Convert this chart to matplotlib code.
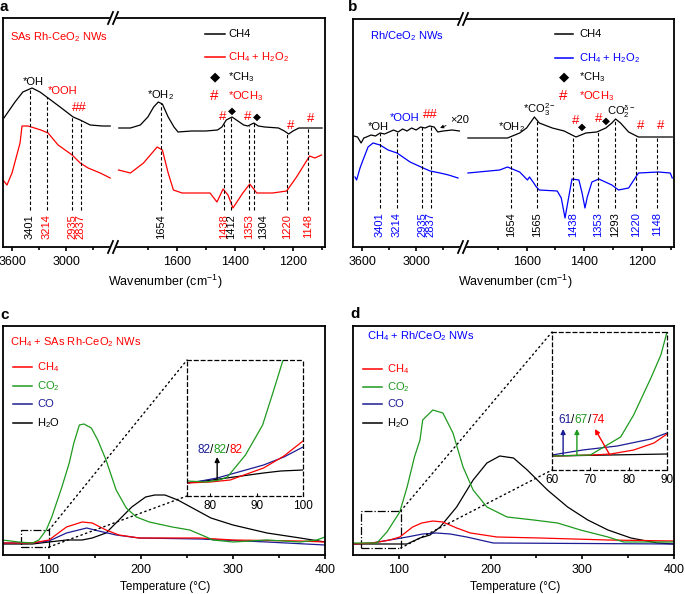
import numpy as np
import matplotlib
matplotlib.use("Agg")
import matplotlib.pyplot as plt
from matplotlib.patches import Rectangle, Polygon, ConnectionPatch

plt.rcParams['font.family'] = ['Liberation Sans', 'DejaVu Sans']
plt.rcParams['mathtext.default'] = 'regular'
plt.rcParams['font.size'] = 8

W, H = 685, 594
RED = '#ff0000'
BLUE = '#0000ff'
GREEN = '#1e9a1e'
NAVY = '#1c1c96'

# ---- panel a : SAs Rh-CeO2 NWs DRIFTS (intensity in a.u.) ----
a_blk_l_wn = np.array([3690, 3567, 3480, 3378, 3290, 3200, 3067, 2922, 2844, 2733, 2600, 2511])
a_blk_l_y = np.array([129, 145, 155, 159, 155, 149, 140, 130, 127, 122, 121, 121])
a_red_l_wn = np.array([3700, 3656, 3600, 3511, 3489, 3422, 3350, 3280, 3200, 3089, 2933, 2844, 2756, 2622, 2511])
a_red_l_y = np.array([67, 62, 74, 104, 121, 121, 119, 117, 114, 102, 92, 84, 79, 74, 69])
a_blk_r_wn = np.array([1800, 1760, 1726, 1700, 1680, 1664, 1650, 1630, 1610, 1596, 1550, 1500, 1460, 1445,
                       1430, 1410, 1390, 1370, 1356, 1335, 1320, 1297, 1250, 1230, 1215, 1200, 1180, 1150, 1100])
a_blk_r_y = np.array([119, 119, 122, 130, 140, 145, 143, 130, 120, 115, 116, 116, 117, 120,
                      127, 130, 126, 122, 121, 124, 121, 120, 119, 116, 113, 116, 119, 119, 119])
a_red_r_wn = np.array([1801, 1760, 1715, 1668, 1650, 1630, 1612, 1582, 1486, 1462, 1441, 1424, 1407, 1373,
                       1349, 1325, 1270, 1222, 1188, 1143, 1125, 1102])
a_red_r_y = np.array([77, 74, 84, 100, 97, 74, 57, 54, 54, 45, 58, 52, 39, 54, 63, 54, 54, 56, 70, 91, 89, 92])
a_lines = [3401, 3214, 2935, 2837, 1654, 1438, 1412, 1353, 1333, 1220, 1148]
a_labels = ['3401', '3214', '2935', '2837', '1654', '1438', '1412', '1353', '1304', '1220', '1148']
a_lab_cols = ['k', RED, RED, RED, 'k', RED, 'k', RED, 'k', RED, RED]

# ---- panel b : Rh/CeO2 NWs ----
b_blk_l_wn = np.array([3690, 3650, 3610, 3580, 3550, 3500, 3450, 3400, 3350, 3300, 3250, 3200, 3150, 3100,
                       3050, 3000, 2950, 2900, 2850, 2800, 2760, 2700, 2600, 2520])
b_blk_l_y = np.array([111, 110, 104, 109, 110, 112, 111, 114, 113, 115, 117, 115, 118, 116,
                      119, 117, 120, 119, 121, 120, 115, 116, 117, 116])
b_blu_l_wn = np.array([3678, 3660, 3622, 3589, 3533, 3478, 3400, 3311, 3212, 3067, 2922, 2845, 2734, 2640, 2535])
b_blu_l_y = np.array([70, 67, 79, 87, 100, 104, 102, 97, 94, 85, 79, 76, 74, 72, 69])
b_blk_r_wn = np.array([1803, 1700, 1666, 1624, 1600, 1573, 1556, 1511, 1470, 1443, 1429, 1395, 1357, 1326,
                       1305, 1292, 1275, 1247, 1213, 1150, 1096])
b_blk_r_y = np.array([109, 109, 109, 114, 119, 130, 124, 119, 116, 112, 110, 114, 115, 119,
                      124, 128, 124, 115, 110, 110, 110])
b_blu_r_wn = np.array([1803, 1693, 1666, 1624, 1597, 1590, 1580, 1566, 1556, 1494, 1480, 1467, 1456, 1443,
                       1419, 1408, 1398, 1390, 1374, 1350, 1305, 1282, 1247, 1213, 1144, 1103, 1096])
b_blu_r_y = np.array([74, 77, 80, 75, 67, 70, 66, 60, 57, 56, 49, 29, 47, 68,
                      67, 54, 39, 50, 65, 68, 62, 57, 59, 74, 75, 74, 69])
b_lines = [3401, 3214, 2935, 2837, 1654, 1565, 1438, 1353, 1293, 1220, 1148]
b_labels = ['3401', '3214', '2935', '2837', '1654', '1565', '1438', '1353', '1293', '1220', '1148']
b_lab_cols = [BLUE, BLUE, BLUE, BLUE, 'k', 'k', BLUE, BLUE, 'k', BLUE, BLUE]

# ---- panel c : CH4 + SAs Rh-CeO2 NWs, MS signal vs temperature ----
c_co2_t = [49, 67, 82, 89, 97, 103, 114, 122, 127, 133, 138, 146, 153, 162, 173, 184, 195, 209, 234, 253, 271, 278, 300, 337, 373, 391, 400]
c_co2_y = [15, 13, 12, 15, 25, 38, 68, 92, 112, 130, 131, 127, 115, 95, 65, 47, 38, 33, 28, 25, 18, 15, 13, 15, 13, 15, 18]
c_ch4_t = [49, 82, 100, 119, 136, 147, 162, 176, 198, 264, 300, 373, 400]
c_ch4_y = [12, 12, 15, 28, 33, 32, 25, 20, 17, 17, 15, 14, 13]
c_co_t = [49, 82, 100, 119, 141, 154, 173, 198, 264, 337, 400]
c_co_y = [12, 12, 14, 22, 27, 24, 20, 17, 16, 13, 10]
c_h2o_t = [49, 82, 100, 119, 136, 147, 162, 176, 190, 205, 215, 226, 240, 254, 276, 300, 337, 373, 400]
c_h2o_y = [11, 11, 13, 15, 15, 17, 22, 35, 48, 58, 60, 60, 55, 48, 37, 30, 22, 17, 13]
# inset c (75-100 C)
ci_co2_t = [75, 79, 82, 83.7, 87.6, 91.3, 93.7, 95.7]
ci_co2_y = [15, 14, 16, 19, 41, 71, 106, 136]
ci_co_t = [75, 78, 81.5, 91.5, 95.9, 100]
ci_co_y = [13, 15, 18, 31, 39, 49]
ci_ch4_t = [75, 80, 84.3, 91.5, 95.9, 100]
ci_ch4_y = [13, 14, 16, 28, 40, 55]
ci_h2o_t = [75, 80.4, 91.5, 95.2, 100]
ci_h2o_y = [13, 16, 23, 25, 26]

# ---- panel d : CH4 + Rh/CeO2 NWs ----
d_co2_t = [50, 76, 87, 101, 109, 117, 123, 126, 137, 148, 159, 170, 181, 196, 218, 247, 273, 298, 328, 345, 400]
d_co2_y = [12, 12, 23, 43, 68, 98, 115, 135, 145, 142, 122, 88, 65, 48, 38, 35, 32, 25, 18, 13, 13]
d_ch4_t = [50, 71, 90, 101, 115, 125, 137, 148, 163, 178, 207, 254, 328, 400]
d_ch4_y = [11, 12, 15, 18, 28, 32, 34, 33, 27, 22, 18, 17, 15, 14]
d_co_t = [50, 71, 90, 109, 126, 141, 156, 174, 203, 400]
d_co_y = [11, 12, 15, 18, 21, 22, 21, 18, 12, 11]
d_h2o_t = [50, 109, 123, 134, 145, 163, 181, 196, 210, 225, 240, 262, 284, 306, 328, 353, 382, 400]
d_h2o_y = [11, 11, 17, 20, 28, 48, 75, 92, 99, 97, 85, 65, 48, 35, 25, 17, 12, 11]
# inset d (60-90 C)
di_co2_t = [60, 70, 77.9, 81.3, 85.8, 88.4, 90]
di_co2_y = [14, 15, 33, 55, 92, 115, 138]
di_co_t = [60, 68, 77, 85.8, 90]
di_co_y = [15, 20, 24, 31, 37]
di_ch4_t = [60, 70.5, 75.3, 81.3, 86.6, 90]
di_ch4_y = [14, 15, 16, 20, 27, 36]
di_h2o_t = [60, 75, 90]
di_h2o_y = [14, 15, 16]


def box(x0, y0, x1, y1):
    return [x0 / W, 1 - y1 / H, (x1 - x0) / W, (y1 - y0) / H]


def style_axis(ax, pad):
    ax.set_facecolor('none')
    for s in ax.spines.values():
        s.set_linewidth(1.3)
    ax.set_yticks([])
    ax.tick_params(axis='x', which='both', direction='out', width=1.2,
                   labelsize=9, pad=pad, top=False)
    ax.tick_params(axis='x', which='major', length=3.2)
    ax.tick_params(axis='x', which='minor', length=2.5)


fig = plt.figure(figsize=(W / 100, H / 100), dpi=100)


def spectrum(px0, pxb, px1, py0, py1, blk_l, blk_r, col_l, col_r, color,
             lines, labels, lab_cols, line_bottom):
    axl = fig.add_axes(box(px0, py0, pxb, py1))
    axr = fig.add_axes(box(pxb, py0, px1, py1))
    axl.set_xlim(3700, 2480)
    axr.set_xlim(1820, 1090)
    for ax in (axl, axr):
        ax.set_ylim(0, py1 - py0)
        style_axis(ax, 3.5)
    axl.spines['right'].set_visible(False)
    axr.spines['left'].set_visible(False)
    axl.set_xticks([3600, 3000])
    axl.set_xticks([3300, 2700], minor=True)
    axr.set_xticks([1600, 1400, 1200])
    axr.set_xticks([1700, 1500, 1300, 1100], minor=True)
    axl.plot(*blk_l, color='k', lw=0.9)
    axr.plot(*blk_r, color='k', lw=0.9)
    axl.plot(*col_l, color=color, lw=0.9)
    axr.plot(*col_r, color=color, lw=0.9)
    for pos, lab, c in zip(lines, labels, lab_cols):
        left = pos > 2000
        ax = axl if left else axr
        wn, yy = blk_l if left else blk_r
        top = np.interp(pos, wn[::-1], yy[::-1])
        ax.plot([pos, pos], [line_bottom, top], color='k', lw=0.8, dashes=(3, 2))
        ax.text(float(lab), line_bottom - 4, lab, rotation=90, ha='center', va='top',
                color=c, fontsize=8)
    return axl, axr


def temp_panel(px0, px1, py0, py1, series):
    ax = fig.add_axes(box(px0, py0, px1, py1))
    ax.set_xlim(50, 400)
    ax.set_ylim(0, py1 - py0)
    style_axis(ax, 3)
    ax.set_xticks([100, 200, 300, 400])
    ax.set_xticks([150, 250, 350], minor=True)
    for t, y, c in series:
        ax.plot(t, y, color=c, lw=0.9)
    return ax


def inset(px0, px1, py0, py1, xlim, ticks, series):
    ax = fig.add_axes(box(px0, py0, px1, py1))
    ax.set_facecolor('none')
    ax.set_xlim(*xlim)
    ax.set_ylim(0, py1 - py0)
    ax.set_yticks([])
    ax.set_xticks(ticks)
    ax.tick_params(axis='x', direction='in', length=2, width=0.8, labelsize=8.5, pad=3)
    for s in ax.spines.values():
        s.set_linestyle((0, (3, 2.5)))
        s.set_linewidth(0.9)
    for t, y, c in series:
        ax.plot(t, y, color=c, lw=0.9)
    return ax


def rainbow(ax, x, y, parts):
    t = ax.text(x, y, parts[0][0], color=parts[0][1], va='bottom', fontsize=8.5)
    for s, c in parts[1:]:
        t = ax.annotate(s, xy=(1, 0), xycoords=t, va='bottom', color=c, fontsize=8.5)


def arrow(ax, tail, tip, c):
    ax.annotate('', xy=tip, xytext=tail,
                arrowprops=dict(arrowstyle='-|>', color=c, lw=1.0, mutation_scale=7,
                                shrinkA=0, shrinkB=0))


# panel a
axa_l, axa_r = spectrum(3, 113, 325, 18, 247,
                        (a_blk_l_wn, a_blk_l_y), (a_blk_r_wn, a_blk_r_y),
                        (a_red_l_wn, a_red_l_y), (a_red_r_wn, a_red_r_y), RED,
                        a_lines, a_labels, a_lab_cols, 37)
axa_l.text(3367, 165, '*OH', ha='center', va='center')
axa_l.text(3044, 156, '*OOH', ha='center', va='center', color=RED)
axa_l.text(2856, 139, '##', ha='center', va='center', color=RED, fontsize=9.5)
axa_r.text(1657, 152, '*OH$_2$', ha='center', va='center')
for wn, y in [(1444, 130), (1355, 130), (1208, 121), (1139, 128)]:
    axa_r.text(wn, y, '#', ha='center', va='center', color=RED, fontsize=9.5)
for wn, y in [(1410, 136), (1325, 130)]:
    axa_r.text(wn, y, '◆', ha='center', va='center', fontsize=7.5, family=['DejaVu Sans'])

# panel b
axb_l, axb_r = spectrum(353, 463, 674, 19, 247,
                        (b_blk_l_wn, b_blk_l_y), (b_blk_r_wn, b_blk_r_y),
                        (b_blu_l_wn, b_blu_l_y), (b_blu_r_wn, b_blu_r_y), BLUE,
                        b_lines, b_labels, b_lab_cols, 39)
axb_l.text(3422, 120, '*OH', ha='center', va='center')
axb_l.text(3123, 129, '*OOH', ha='center', va='center', color=BLUE)
axb_l.text(2845, 132, '##', ha='center', va='center', color=RED, fontsize=9.5)
axb_l.annotate('×20', xy=(2734, 119), xytext=(2623, 127), va='center', ha='left',
               arrowprops=dict(arrowstyle='-|>', color='k', lw=0.6, mutation_scale=5,
                               shrinkA=1, shrinkB=0))
axb_r.text(1652, 120, '*OH$_2$', ha='center', va='center')
axb_r.text(1556, 137, '*CO$_3^{2-}$', ha='center', va='center')
axb_r.text(1271, 135, r'CO$_2^{\delta-}$', ha='center', va='center')
for wn, y in [(1429, 126), (1350, 128), (1206, 121), (1137, 121)]:
    axb_r.text(wn, y, '#', ha='center', va='center', color=RED, fontsize=9.5)
for wn, y in [(1408, 120), (1326, 126)]:
    axb_r.text(wn, y, '◆', ha='center', va='center', fontsize=7.5, family=['DejaVu Sans'])

# panel c
axc = temp_panel(3, 325, 326, 555, [(c_h2o_t, c_h2o_y, 'k'), (c_co_t, c_co_y, NAVY),
                                    (c_ch4_t, c_ch4_y, RED), (c_co2_t, c_co2_y, GREEN)])
axc.add_patch(Rectangle((69.6, 8), 30.4, 17, fill=False, ls='-.', lw=0.9))
insc = inset(187, 303, 360, 496, (75, 100), [80, 90, 100],
             [(ci_h2o_t, ci_h2o_y, 'k'), (ci_co_t, ci_co_y, NAVY),
              (ci_ch4_t, ci_ch4_y, RED), (ci_co2_t, ci_co2_y, GREEN)])
arrow(insc, (81.5, 17), (81.5, 39), 'k')
rainbow(insc, 77.2, 40, [('82', NAVY), ('/', 'k'), ('82', GREEN), ('/', 'k'), ('82', RED)])
for a, b in [((100, 25), (0, 1)), ((100, 8), (0, 0))]:
    fig.add_artist(ConnectionPatch(xyA=a, coordsA=axc.transData, xyB=b, coordsB=insc.transAxes,
                                   ls=(0, (1, 2.5)), lw=1.0, color='k'))

# panel d
axd = temp_panel(353, 674, 326, 555, [(d_h2o_t, d_h2o_y, 'k'), (d_co_t, d_co_y, NAVY),
                                      (d_ch4_t, d_ch4_y, RED), (d_co2_t, d_co2_y, GREEN)])
axd.add_patch(Rectangle((59, 7), 43, 37, fill=False, ls='-.', lw=0.9))
insd = inset(552, 667, 332, 470, (60, 90), [60, 70, 80, 90],
             [(di_h2o_t, di_h2o_y, 'k'), (di_co_t, di_co_y, NAVY),
              (di_ch4_t, di_ch4_y, RED), (di_co2_t, di_co2_y, GREEN)])
arrow(insd, (62.9, 15), (62.9, 41), NAVY)
arrow(insd, (66.5, 15), (66.5, 41), GREEN)
arrow(insd, (75.1, 15), (71.2, 41), RED)
rainbow(insd, 61.6, 44, [('61', NAVY), ('/', 'k'), ('67', GREEN), ('/', 'k'), ('74', RED)])
for a, b in [((102, 44), (0, 1)), ((102, 7), (0, 0))]:
    fig.add_artist(ConnectionPatch(xyA=a, coordsA=axd.transData, xyB=b, coordsB=insd.transAxes,
                                   ls=(0, (1, 2.5)), lw=1.0, color='k'))

# overlay in pixel coordinates for labels, legends and axis breaks
ov = fig.add_axes([0, 0, 1, 1], zorder=20)
ov.set_xlim(0, W)
ov.set_ylim(H, 0)
ov.axis('off')

for x, y in [(113, 18), (113, 247), (463, 19), (463, 247)]:
    ov.add_patch(Polygon([[x - 5, y + 6], [x, y + 6], [x + 5, y - 6], [x, y - 6]],
                         closed=True, color='white', zorder=5))
    for dx in (-5, 0):
        ov.plot([x + dx, x + dx + 5], [y + 6, y - 6], color='k', lw=1.3, zorder=6)

for s, x, y in [('a', 0, 7), ('b', 348, 7), ('c', 0, 315), ('d', 350, 314)]:
    ov.text(x, y, s, fontsize=11, fontweight='bold', va='center', ha='left')

ov.text(165, 282, 'Wavenumber (cm$^{-1}$)', ha='center', va='center', fontsize=9)
ov.text(515, 282, 'Wavenumber (cm$^{-1}$)', ha='center', va='center', fontsize=9)
ov.text(165, 587, 'Temperature (°C)', ha='center', va='center', fontsize=8.5)
ov.text(515, 587, 'Temperature (°C)', ha='center', va='center', fontsize=8.5)

ov.text(10, 37, 'SAs Rh-CeO$_2$ NWs', color=RED, va='center')
ov.text(370, 36, 'Rh/CeO$_2$ NWs', color=BLUE, va='center')
ov.text(10, 342, 'CH$_4$ + SAs Rh-CeO$_2$ NWs', color=RED, va='center')
ov.text(367, 336, 'CH$_4$ + Rh/CeO$_2$ NWs', color=BLUE, va='center')


def legend_rows(xl0, xl1, xt, rows):
    for y, kind, color, label, tcolor in rows:
        if kind == 'line':
            ov.plot([xl0, xl1], [y, y], color=color, lw=1.1)
        elif kind == 'D':
            ov.text((xl0 + xl1) / 2, y, '◆', color=color, ha='center', va='center',
                    fontsize=9.5, family=['DejaVu Sans'])
        else:
            ov.text((xl0 + xl1) / 2 - 1, y, kind, color=color, ha='center', va='center', fontsize=11)
        ov.text(xt, y, label, color=tcolor, va='center')


legend_rows(205, 225, 228, [(34, 'line', 'k', 'CH4', 'k'),
                            (57, 'line', RED, 'CH$_4$ + H$_2$O$_2$', RED),
                            (77, 'D', 'k', '*CH$_3$', 'k'),
                            (96, '#', RED, '*OCH$_3$', RED)])
legend_rows(555, 573, 579, [(34, 'line', 'k', 'CH4', 'k'),
                            (58, 'line', BLUE, 'CH$_4$ + H$_2$O$_2$', BLUE),
                            (77, 'D', 'k', '*CH$_3$', 'k'),
                            (96, '#', RED, '*OCH$_3$', RED)])
legend_rows(13, 32, 37, [(367, 'line', RED, 'CH$_4$', RED),
                         (386, 'line', GREEN, 'CO$_2$', GREEN),
                         (404, 'line', NAVY, 'CO', NAVY),
                         (423, 'line', 'k', 'H$_2$O', 'k')])
legend_rows(363, 382, 387, [(369, 'line', RED, 'CH$_4$', RED),
                            (387, 'line', GREEN, 'CO$_2$', GREEN),
                            (404, 'line', NAVY, 'CO', NAVY),
                            (423, 'line', 'k', 'H$_2$O', 'k')])

fig.savefig('out.png', dpi=100)
